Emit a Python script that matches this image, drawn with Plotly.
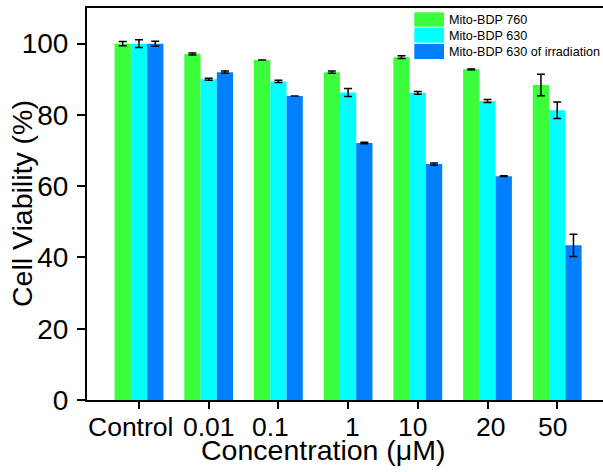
import plotly.graph_objects as go

# ---------------- data ----------------
categories = ["Control", "0.01", "0.1", "1", "10", "20", "50"]
series_names = ["Mito-BDP 760", "Mito-BDP 630", "Mito-BDP 630 of irradiation"]
bdp760 = [100.0, 97.1, 95.4, 92.0, 96.2, 92.8, 88.4]
bdp760_err = [0.6, 0.3, None, 0.3, 0.4, 0.1, 3.0]
bdp630 = [100.0, 90.0, 89.4, 86.3, 86.2, 83.9, 81.3]
bdp630_err = [1.1, 0.3, 0.3, 1.1, 0.4, 0.4, 2.3]
bdp630_irr = [100.0, 92.0, 85.3, 72.1, 66.2, 62.8, 43.4]
bdp630_irr_err = [0.7, 0.3, None, 0.2, 0.3, 0.1, 3.1]
y_ticks = [0, 20, 40, 60, 80, 100]

colors = ["#3BFF3B", "#00FFFF", "#007FFF"]

# ---------------- layout constants (pixels) ----------------
W, H = 603, 472
ML, MR, MT, MB = 87, 0, 8, 72
PW, PH = W - ML - MR, H - MT - MB
FONT = "Arial, 'Liberation Sans', Helvetica, sans-serif"
# small horizontal nudges of the category labels, as in the original figure
label_xshift = [-9, 0, -8, 4, -5, 3, -5]


def px_x(p):
    return (p - ML) / PW


def px_y(p):
    return (H - MB - p) / PH


fig = go.Figure()
for name, vals, errs, col in zip(series_names,
                                 [bdp760, bdp630, bdp630_irr],
                                 [bdp760_err, bdp630_err, bdp630_irr_err],
                                 colors):
    fig.add_trace(go.Bar(
        x=categories, y=vals, name=name, marker=dict(color=col, line=dict(width=0)),
        error_y=dict(type="data", array=errs, color="black", thickness=1.5, width=4),
        showlegend=False,
    ))

# custom legend (large swatches like the original)
legend_rows = [(12.3, 26.7), (27.7, 42.7), (44.0, 59.0)]
sw_x0, sw_x1, txt_x = 414.3, 444.0, 446.5
shapes = []
annotations = []
for (y0, y1), name, col in zip(legend_rows, series_names, colors):
    shapes.append(dict(type="rect", xref="paper", yref="paper",
                       x0=px_x(sw_x0), x1=px_x(sw_x1), y0=px_y(y1), y1=px_y(y0),
                       fillcolor=col, line=dict(width=0), layer="above"))
    annotations.append(dict(text=name, xref="paper", yref="paper",
                            x=px_x(txt_x), y=px_y((y0 + y1) / 2 + 0.5),
                            xanchor="left", yanchor="middle", showarrow=False,
                            font=dict(family=FONT, size=12.6, color="black")))

# category tick labels (placed at each category's index on the category axis)
for idx, (cat, dx) in enumerate(zip(categories, label_xshift)):
    annotations.append(dict(text=cat, xref="x", yref="paper", x=idx, y=px_y(427),
                            xanchor="center", yanchor="middle", xshift=dx,
                            showarrow=False,
                            font=dict(family=FONT, size=26.5, color="black")))

# axis titles
annotations.append(dict(text="Concentration (μM)", xref="paper", yref="paper",
                        x=px_x(323), y=px_y(450), xanchor="center", yanchor="middle",
                        showarrow=False, font=dict(family=FONT, size=28.5, color="black")))
annotations.append(dict(text="Cell Viability (%)", xref="paper", yref="paper",
                        x=px_x(22), y=px_y(204), xanchor="center", yanchor="middle",
                        textangle=-90, showarrow=False,
                        font=dict(family=FONT, size=28.5, color="black")))

fig.update_layout(
    width=W, height=H,
    margin=dict(l=ML, r=MR, t=MT, b=MB, pad=0),
    paper_bgcolor="white", plot_bgcolor="white",
    barmode="group", bargap=0.3, bargroupgap=0.0,
    font=dict(family=FONT, color="black"),
    shapes=shapes, annotations=annotations,
    xaxis=dict(
        type="category",
        range=[-0.746, 6.657], showline=True, linecolor="black", linewidth=2,
        mirror=True, ticks="outside", ticklen=7, tickwidth=2, tickcolor="black",
        showticklabels=False,
        showgrid=False, zeroline=False, fixedrange=True,
    ),
    yaxis=dict(
        range=[0, 110], tickvals=y_ticks, showline=True, linecolor="black", linewidth=2,
        ticks="outside", ticklen=8, tickwidth=2, tickcolor="black",
        tickfont=dict(family=FONT, size=28, color="black"), ticklabelstandoff=3,
        showgrid=False, zeroline=False, fixedrange=True,
    ),
)

fig.write_html("out.html", config={"displayModeBar": False},
               post_script="document.body.style.margin='0';document.body.style.overflow='hidden';")
